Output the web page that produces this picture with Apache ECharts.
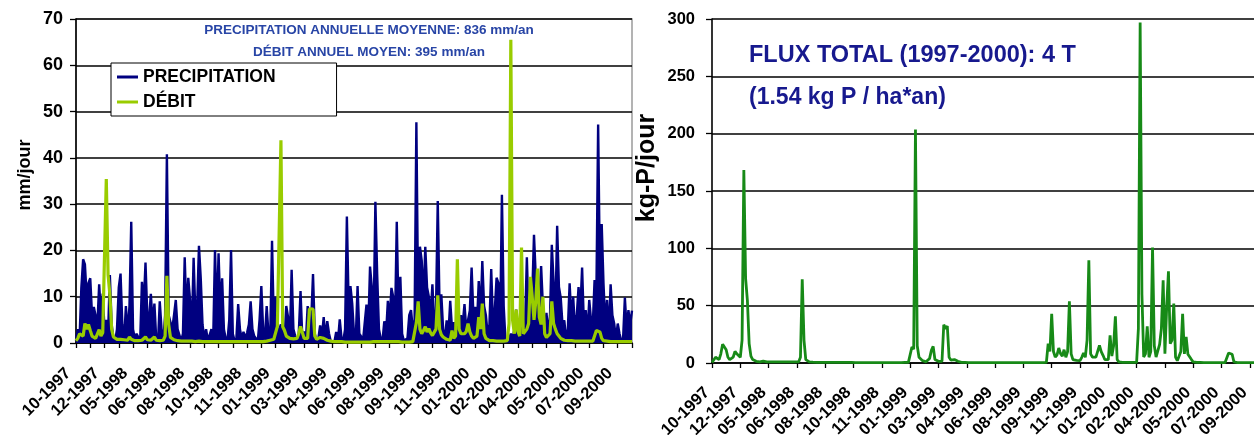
<!DOCTYPE html>
<html>
<head>
<meta charset="utf-8">
<script src="https://cdn.jsdelivr.net/npm/echarts@6/dist/echarts.min.js"></script>
<style>
  html, body { margin: 0; padding: 0; background: #ffffff; }
  #chart { width: 1254px; height: 435px; }
</style>
</head>
<body>
<div id="chart"></div>
<script>
// Month labels shown every 16 samples along the time axis
const monthLabels = ['10-1997', '12-1997', '05-1998', '06-1998', '08-1998', '10-1998', '11-1998',
  '01-1999', '03-1999', '04-1999', '06-1999', '08-1999', '09-1999', '11-1999', '01-2000',
  '02-2000', '04-2000', '05-2000', '07-2000', '09-2000'];

// Precipitation (mm/jour)
const precipitation = [
  0.5, 3, 1, 12, 18.1, 17, 10, 13, 14, 6, 7.8, 7.8, 4, 12.7, 6, 10.7,
  3, 5, 2, 14.7, 4, 1, 0.5, 3, 12, 15, 4, 0.5, 8, 2, 8, 26.2,
  3, 1, 2, 2, 0.5, 13.2, 8, 17.4, 6, 5, 10.6, 4, 8.5, 1, 0, 9,
  3, 0.5, 6, 40.8, 6, 5.8, 3, 6, 9.3, 3, 2.7, 0.5, 2, 18.5, 6, 14.1,
  9.3, 3, 18.4, 6, 8, 21, 14, 4, 1, 3, 0.5, 0.3, 3, 1, 20.1, 5,
  19.4, 7, 14, 3, 1, 0.5, 5, 20.1, 2, 0.5, 1, 8.4, 3, 1, 2.4, 1,
  2.2, 4, 9, 3, 1.5, 1, 0.3, 5, 12.3, 3, 1, 8, 2, 1.5, 22.1, 4,
  10, 2, 3, 4, 2, 1, 8, 5.6, 1, 15.8, 3, 1.5, 0.5, 2, 11.2, 1,
  2.5, 0.5, 8, 3, 5, 14.9, 2, 0.5, 1, 3.8, 1.5, 5.6, 1, 4.7, 2, 0.3,
  0.5, 0.2, 2.4, 0.5, 5.1, 1, 0.5, 3, 27.3, 8, 12.3, 8.5, 2, 1, 12.3, 2,
  1.4, 0.3, 0.5, 8.3, 3, 16.5, 12, 5, 30.5, 14.9, 3, 1, 0.5, 4.7, 2, 9.1,
  5, 11.9, 10, 4, 26.2, 6, 14.3, 2, 0.5, 0.3, 1, 6, 7.1, 3, 5, 47.7,
  8, 20.8, 17.8, 9, 20.8, 12, 10, 6, 12.7, 4, 7, 30.7, 8, 10.5, 3, 1,
  4.9, 2, 9.1, 3, 4.5, 0.5, 6, 2, 6, 4, 8.4, 3, 5, 7, 16.3, 6,
  7.8, 4, 13.4, 6, 17.7, 8, 6, 2, 4, 16, 4, 7.1, 14.1, 13, 3, 32,
  8, 0.5, 0.3, 1, 2, 1, 3, 7.2, 2, 5, 3, 1, 4, 18.5, 5, 11.4,
  10, 23.4, 14.3, 6, 9, 16.6, 8, 3, 6.5, 2, 6, 21.2, 13.2, 6, 25.3, 12.1,
  9.8, 4, 4.9, 1, 3, 12.9, 5, 10, 3, 6, 12.1, 7, 16.3, 4, 7.1, 2,
  9.3, 5, 4, 13.6, 10, 47.2, 14, 25.7, 12.9, 4, 9.3, 2, 12.7, 6, 4.2, 1,
  4.2, 2, 0.5, 1, 9.8, 3, 7.1, 4, 7
];

// Débit (mm/jour)
const debit = [
  0.5, 1, 2, 2, 1.5, 4.2, 3, 4, 2.7, 1.5, 1.3, 1, 1.2, 2.9, 1.5, 2.2,
  2, 35.4, 14.7, 10.5, 3, 1.3, 1, 0.8, 0.7, 0.8, 0.6, 0.7, 0.6, 0.6, 1.3, 0.8,
  0.6, 0.5, 0.5, 0.5, 0.6, 0.6, 0.7, 1.3, 0.7, 0.6, 0.6, 0.8, 1.3, 0.6, 0.5, 0.5,
  0.5, 0.6, 1.5, 14.5, 4, 1.2, 0.9, 0.7, 0.6, 0.5, 0.5, 0.4, 0.4, 0.4, 0.4, 0.4,
  0.4, 0.4, 0.3, 0.3, 0.3, 0.4, 0.3, 0.3, 0.3, 0.3, 0.3, 0.3, 0.3, 0.3, 0.3, 0.3,
  0.3, 0.3, 0.3, 0.3, 0.3, 0.3, 0.3, 0.3, 0.3, 0.3, 0.3, 0.3, 0.3, 0.3, 0.3, 0.3,
  0.3, 0.3, 0.3, 0.3, 0.3, 0.3, 0.3, 0.3, 0.3, 0.3, 0.3, 0.4, 0.5, 0.6, 0.6, 0.8,
  1, 3.6, 3.9, 43.8, 3.5, 2.7, 1.5, 1.2, 1, 1, 0.9, 0.8, 1, 2, 3.6, 3.4,
  1, 0.8, 1, 7.4, 7.2, 7.3, 1.5, 0.8, 1, 1.2, 1.3, 1, 0.8, 0.6, 0.5, 0.4,
  0.4, 0.3, 0.3, 0.3, 0.3, 0.3, 0.2, 0.2, 0.2, 0.2, 0.2, 0.2, 0.2, 0.2, 0.2, 0.2,
  0.2, 0.2, 0.2, 0.2, 0.2, 0.2, 0.2, 0.3, 0.3, 0.3, 0.3, 0.3, 0.3, 0.3, 0.3, 0.3,
  0.3, 0.3, 0.3, 0.3, 0.3, 0.3, 0.3, 0.2, 0.2, 0.2, 0.2, 0.2, 0.3, 0.3, 0.5, 4.4,
  9, 3, 2, 2.7, 3.5, 2.4, 3.1, 2.2, 1.6, 1.4, 3, 10.3, 3, 1.8, 1.3, 1,
  0.8, 0.6, 0.6, 2.7, 1, 1.5, 18.1, 3, 2, 1.8, 2, 2.5, 4.2, 2.4, 1.5, 1,
  1, 1.5, 5.6, 3, 8.5, 2, 1, 0.7, 0.5, 0.5, 0.5, 0.4, 0.4, 0.4, 0.4, 0.4,
  0.4, 0.4, 0.5, 4.2, 65.5, 4.9, 2, 7.2, 2.5, 1.5, 20.6, 2, 1.7, 3, 4.2, 14.3,
  10, 5, 9, 16.1, 5.6, 4, 10, 2, 1.2, 1, 2, 9, 4.2, 3, 2, 1.5,
  1, 0.8, 0.6, 0.6, 0.5, 0.5, 0.5, 0.5, 0.4, 0.4, 0.4, 0.4, 0.4, 0.4, 0.4, 0.4,
  0.4, 0.4, 0.4, 0.5, 2.7, 2.4, 2.4, 1, 0.5, 0.4, 0.4, 0.3, 0.3, 0.3, 0.3, 0.3,
  0.3, 0.3, 0.3, 0.3, 0.3, 0.3, 0.3, 0.3, 0.3
];

// Flux de phosphore (kg-P/jour)
const fluxP = [
  0.5, 1, 5, 5.2, 3, 8, 16.3, 16.9, 11.6, 5, 3, 2, 5.2, 10.2, 8, 6.7,
  5, 20, 168.2, 73.6, 54.7, 16.9, 6, 3, 2, 1.5, 1.2, 1, 1, 1.7, 1.2, 1,
  1, 1, 1, 1, 1.2, 1, 1.7, 1, 1, 1, 1.7, 1, 1, 1, 2.3, 1,
  1, 1, 5, 73, 20, 3, 1.5, 1, 0.8, 0.7, 0.6, 0.6, 0.6, 0.5, 0.5, 0.5,
  0.5, 0.5, 0.5, 0.5, 0.5, 0.5, 0.5, 0.5, 0.5, 0.5, 0.5, 0.5, 0.5, 0.5, 0.5, 0.5,
  0.4, 0.4, 0.4, 0.4, 0.4, 0.4, 0.4, 0.4, 0.4, 0.4, 0.4, 0.4, 0.4, 0.4, 0.4, 0.4,
  0.4, 0.4, 0.4, 0.4, 0.4, 0.4, 0.4, 0.4, 0.4, 0.4, 0.4, 0.4, 0.5, 0.5, 0.5, 0.6,
  1, 14, 12, 203.7, 15, 5, 4.7, 2, 1, 1, 1, 4, 11, 14.5, 3, 1.5,
  1.5, 1.5, 1.5, 33.4, 30, 32.3, 5, 2.5, 3, 3, 2.5, 1.5, 0.8, 0.6, 0.5, 0.5,
  0.4, 0.4, 0.4, 0.4, 0.4, 0.4, 0.4, 0.4, 0.4, 0.4, 0.4, 0.4, 0.4, 0.4, 0.4, 0.4,
  0.3, 0.3, 0.3, 0.3, 0.3, 0.3, 0.3, 0.3, 0.3, 0.3, 0.3, 0.3, 0.3, 0.3, 0.3, 0.3,
  0.3, 0.3, 0.3, 0.3, 0.3, 0.3, 0.3, 0.3, 0.3, 0.3, 0.3, 0.3, 0.3, 0.5, 16.9, 10,
  43, 10, 5.2, 7, 13.1, 8.1, 6, 11.6, 5, 10, 53.8, 8, 3, 2.3, 2.3, 2,
  2, 5, 8.7, 5, 20, 89.6, 8, 5.2, 4, 5.2, 5, 15.4, 10, 6.7, 3, 2,
  3, 24.1, 6, 15, 40.7, 3, 1, 0.6, 0.6, 0.6, 0.6, 0.6, 0.6, 0.6, 0.6, 0.6,
  0.6, 30, 297, 60, 5.2, 8, 32, 5, 10, 100.6, 15, 5.2, 6, 16.3, 30, 72.2,
  8.1, 48.9, 80, 16.9, 20, 51.8, 5.2, 2, 1, 10, 43, 8, 22.7, 7.6, 7.6, 3,
  0.9, 0.6, 0.5, 0.5, 0.5, 0.5, 0.4, 0.4, 0.4, 0.4, 0.4, 0.4, 0.4, 0.4, 0.4, 0.4,
  0.4, 0.4, 0.4, 2, 8.7, 7, 7.6, 1, 0.4, 0.4, 0.3, 0.3, 0.3, 0.3, 0.3, 0.3,
  0.3, 0.3, 0.3, 0.3, 0.3, 0.3, 0.3, 0.3, 0.3
];

const SAMPLES_PER_LABEL = 16;
const FONT = '"Liberation Sans", Arial, sans-serif';

// One category per sample; only every 16th gets a visible month label
const sampleKeys = precipitation.map((_, i) => 's' + i);
const monthFormatter = (value, index) =>
  index % SAMPLES_PER_LABEL === 0 ? (monthLabels[index / SAMPLES_PER_LABEL] || '') : '';

function timeAxis(gridIndex, tickInterval, fontSize, margin, shift) {
  return {
    type: 'category',
    gridIndex: gridIndex,
    data: sampleKeys,
    boundaryGap: false,
    axisLine: { show: true, onZero: false, lineStyle: { color: '#000', width: 1.6 } },
    axisTick: { show: true, interval: tickInterval, length: 5, lineStyle: { color: '#000', width: 1.3 } },
    axisLabel: {
      interval: SAMPLES_PER_LABEL - 1,
      rotate: 45,
      margin: margin,
      padding: [0, shift, 0, 0],
      color: '#000',
      fontFamily: FONT,
      fontWeight: 'bold',
      fontSize: fontSize,
      formatter: monthFormatter
    },
    splitLine: { show: false }
  };
}

function valueAxis(gridIndex, max, interval, fontSize, margin) {
  return {
    type: 'value',
    gridIndex: gridIndex,
    min: 0,
    max: max,
    interval: interval,
    axisLine: { show: true, lineStyle: { color: '#000', width: 1.6 } },
    axisTick: { show: true, length: 6, lineStyle: { color: '#000', width: 1.3 } },
    axisLabel: {
      color: '#000',
      fontFamily: FONT,
      fontWeight: 'bold',
      fontSize: fontSize,
      margin: margin
    },
    splitLine: { show: true, lineStyle: { color: '#000', width: 1.6 } }
  };
}

const chart = echarts.init(document.getElementById('chart'), null, { renderer: 'canvas' });

chart.setOption({
  animation: false,
  backgroundColor: '#ffffff',
  grid: [
    { left: 76, top: 19, width: 556, height: 324, show: true, borderColor: '#9a9a9a', borderWidth: 1.5,
      backgroundColor: 'transparent', outerBoundsMode: 'none', containLabel: false },
    { left: 712, top: 19, width: 552, height: 344, show: false, outerBoundsMode: 'none', containLabel: false }
  ],
  xAxis: [
    timeAxis(0, 7, 16.5, 20, 11),
    timeAxis(1, 15, 16.5, 22, 7)
  ],
  yAxis: [
    valueAxis(0, 70, 10, 18, 13),
    valueAxis(1, 300, 50, 16.5, 17)
  ],
  legend: {
    show: true,
    orient: 'vertical',
    left: 111,
    top: 63,
    data: ['PRECIPITATION', 'DÉBIT'],
    icon: 'rect',
    itemWidth: 21,
    itemHeight: 3,
    itemGap: 3,
    padding: [3, 61, 3, 6],
    backgroundColor: '#ffffff',
    borderColor: '#000',
    borderWidth: 1,
    borderRadius: 0,
    textStyle: { color: '#000', fontFamily: FONT, fontWeight: 'bold', fontSize: 17.5, lineHeight: 22 },
    selectedMode: false
  },
  series: [
    {
      name: 'PRECIPITATION',
      type: 'line',
      xAxisIndex: 0,
      yAxisIndex: 0,
      data: precipitation,
      showSymbol: false,
      symbol: 'none',
      color: '#000080',
      lineStyle: { color: '#000080', width: 2.4 },
      areaStyle: { color: '#000080', opacity: 1 },
      z: 2
    },
    {
      name: 'DÉBIT',
      type: 'line',
      xAxisIndex: 0,
      yAxisIndex: 0,
      data: debit,
      showSymbol: false,
      symbol: 'none',
      color: '#99cc00',
      lineStyle: { color: '#99cc00', width: 3.2 },
      z: 3
    },
    {
      name: 'FLUX P',
      type: 'line',
      xAxisIndex: 1,
      yAxisIndex: 1,
      data: fluxP,
      showSymbol: false,
      symbol: 'none',
      color: '#178a17',
      lineStyle: { color: '#178a17', width: 2.8 },
      z: 3
    }
  ],
  graphic: [
    { type: 'text', x: 369, y: 30, z: 10,
      style: { text: 'PRECIPITATION ANNUELLE MOYENNE: 836 mm/an', fill: '#2845a6',
        font: 'bold 13.5px ' + FONT, textAlign: 'center', textVerticalAlign: 'middle' } },
    { type: 'text', x: 369, y: 52, z: 10,
      style: { text: 'DÉBIT ANNUEL MOYEN: 395 mm/an', fill: '#2845a6',
        font: 'bold 13.5px ' + FONT, textAlign: 'center', textVerticalAlign: 'middle' } },
    { type: 'text', x: 25, y: 175, rotation: Math.PI / 2, z: 10,
      style: { text: 'mm/jour', fill: '#000',
        font: 'bold 18px ' + FONT, textAlign: 'center', textVerticalAlign: 'middle' } },
    { type: 'text', x: 647, y: 168, rotation: Math.PI / 2, z: 10,
      style: { text: 'kg-P/jour', fill: '#000',
        font: 'bold 25px ' + FONT, textAlign: 'center', textVerticalAlign: 'middle' } },
    { type: 'text', x: 749, y: 56, z: 10,
      style: { text: 'FLUX TOTAL (1997-2000): 4 T', fill: '#17198e',
        font: 'bold 23.5px ' + FONT, textAlign: 'left', textVerticalAlign: 'middle' } },
    { type: 'text', x: 749, y: 98, z: 10,
      style: { text: '(1.54 kg P / ha*an)', fill: '#17198e',
        font: 'bold 23px ' + FONT, textAlign: 'left', textVerticalAlign: 'middle' } }
  ]
});
</script>
</body>
</html>
